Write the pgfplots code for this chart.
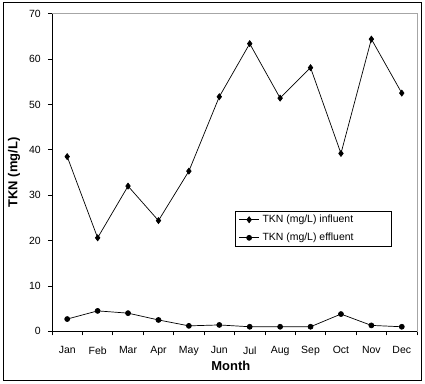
\documentclass[border=0pt]{standalone}
\usepackage{pgfplots}
\pgfplotsset{compat=1.18}
\usepackage{fontspec}
\setmainfont{Liberation Sans}
\begin{document}
\begin{tikzpicture}[x=1bp,y=1bp]
\useasboundingbox (0,0) rectangle (425,384);
\draw[black, line width=1bp] (3,4) rectangle (421,381);
\begin{axis}[
  at={(52bp,52.7bp)}, anchor=south west,
  scale only axis, width=365bp, height=317.6bp,
  xmin=0.5, xmax=12.5, ymin=0, ymax=70,
  axis line style={gray!70, line width=0.8bp},
  xtick={1,...,12},
  xticklabels={Jan,Feb,Mar,Apr,May,Jun,Jul,Aug,Sep,Oct,Nov,Dec},
  minor xtick={0.5,1.5,...,12.5},
  ytick={0,10,...,70},
  tick pos=left, tick align=outside,
  major tick length=4bp, minor tick length=4bp,
  every major x tick/.append style={draw=none},
  tick style={black, line width=0.8bp},
  /pgf/number format/assume math mode=true,
  tick label style={font=\fontsize{10.5}{12}\selectfont},
  yticklabel style={inner sep=0pt, xshift=-7bp},
  xticklabel style={inner sep=0pt, yshift=-11bp},
  xlabel={Month}, ylabel={TKN (mg/L)},
  label style={font=\bfseries\fontsize{13}{15}\selectfont},
  xlabel style={at={(axis description cs:0.49,0)}, anchor=base, yshift=-39.7bp, inner sep=0pt},
  ylabel style={at={(axis description cs:0,0.5)}, anchor=base, yshift=34.7bp, inner sep=0pt},
  legend style={at={(rel axis cs:0.5,0.379)}, anchor=north west, draw=black, line width=0.6bp,
    font=\fontsize{10.5}{12}\selectfont, inner xsep=4bp, inner ysep=2bp, row sep=5bp,
    nodes={inner xsep=3bp}},
  legend cell align=left,
  legend image code/.code={\draw[#1, line width=0.7bp] (0bp,0bp) -- (20bp,0bp); \path[#1] plot coordinates {(10bp,0bp)};},
  clip=false,
]
\addplot[black, line width=0.7bp, mark=diamond*, mark size=3bp] coordinates {
(1,38.5) (2,20.6) (3,32.0) (4,24.4) (5,35.3) (6,51.7) (7,63.4) (8,51.4) (9,58.1) (10,39.2) (11,64.4) (12,52.5)};
\addlegendentry{\fontsize{10.5}{12}\selectfont\makebox[122bp][l]{TKN (mg/L) influent}}
\addplot[black, line width=0.7bp, mark=*, mark size=2.5bp] coordinates {
(1,2.7) (2,4.5) (3,4.0) (4,2.5) (5,1.2) (6,1.4) (7,1.0) (8,1.0) (9,1.0) (10,3.8) (11,1.3) (12,1.0)};
\addlegendentry{\fontsize{10.5}{12}\selectfont\makebox[122bp][l]{TKN (mg/L) effluent}}
\draw[black, line width=0.8bp] (rel axis cs:0,1) -- (rel axis cs:0,0) -- (rel axis cs:1,0);
\end{axis}
\end{tikzpicture}
\end{document}
